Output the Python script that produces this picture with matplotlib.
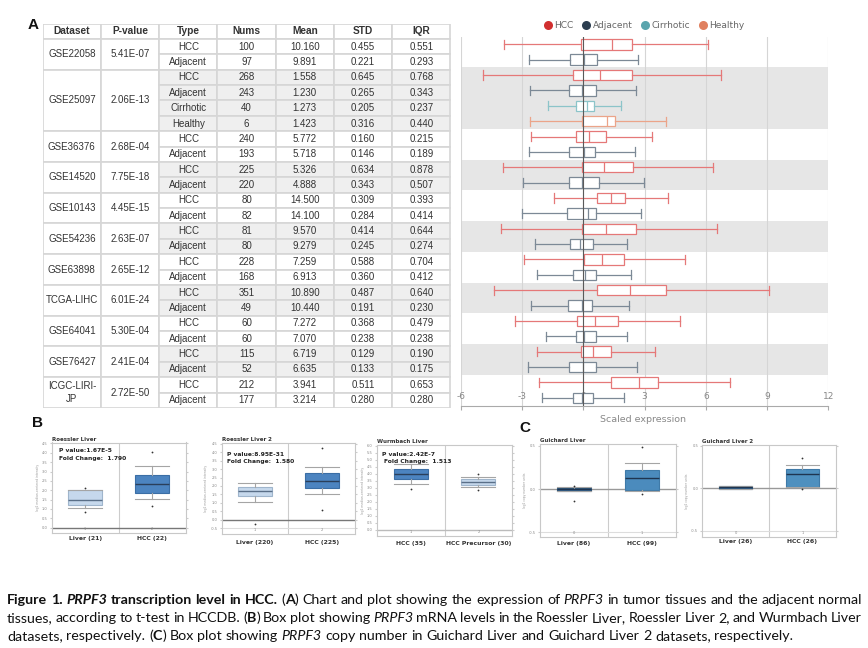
import numpy as np
import matplotlib
matplotlib.use("Agg")
import matplotlib.pyplot as plt
from matplotlib.lines import Line2D
from matplotlib.patches import Rectangle
from matplotlib.transforms import blended_transform_factory

# ---------------- panel A: table ----------------
headers = ["Dataset", "P-value", "Type", "Nums", "Mean", "STD", "IQR"]
datasets = ["GSE22058", "GSE25097", "GSE36376", "GSE14520", "GSE10143", "GSE54236",
            "GSE63898", "TCGA-LIHC", "GSE64041", "GSE76427", "ICGC-LIRI-\nJP"]
pvalues = ["5.41E-07", "2.06E-13", "2.68E-04", "7.75E-18", "4.45E-15", "2.63E-07",
           "2.65E-12", "6.01E-24", "5.30E-04", "2.41E-04", "2.72E-50"]
group_sizes = [2, 4, 2, 2, 2, 2, 2, 2, 2, 2, 2]
types = ["HCC", "Adjacent", "HCC", "Adjacent", "Cirrhotic", "Healthy"] + ["HCC", "Adjacent"] * 9
nums = [100, 97, 268, 243, 40, 6, 240, 193, 225, 220, 80, 82, 81, 80, 228, 168, 351, 49, 60, 60, 115, 52, 212, 177]
means = ["10.160", "9.891", "1.558", "1.230", "1.273", "1.423", "5.772", "5.718", "5.326", "4.888",
         "14.500", "14.100", "9.570", "9.279", "7.259", "6.913", "10.890", "10.440", "7.272", "7.070",
         "6.719", "6.635", "3.941", "3.214"]
stds = ["0.455", "0.221", "0.645", "0.265", "0.205", "0.316", "0.160", "0.146", "0.634", "0.343",
        "0.309", "0.284", "0.414", "0.245", "0.588", "0.360", "0.487", "0.191", "0.368", "0.238",
        "0.129", "0.133", "0.511", "0.280"]
iqrs = ["0.551", "0.293", "0.768", "0.343", "0.237", "0.440", "0.215", "0.189", "0.878", "0.507",
        "0.393", "0.414", "0.644", "0.274", "0.704", "0.412", "0.640", "0.230", "0.479", "0.238",
        "0.190", "0.175", "0.653", "0.280"]

# ---------------- panel A: scaled expression boxes ----------------
box_lo = [-3.88, -2.65, -4.89, -2.62, -1.71, -2.59, -2.57, -2.65, -3.94, -2.95, -1.41, -3.01,
          -4.02, -2.34, -2.91, -2.25, -4.35, -2.56, -3.36, -1.84, -2.25, -2.69, -2.18, -2.01]
box_q1 = [-0.13, -0.66, -0.52, -0.68, -0.37, -0.08, -0.37, -0.71, -0.08, -0.71, 0.66, -0.81,
          -0.04, -0.66, 0.04, -0.52, 0.69, -0.75, -0.30, -0.35, -0.09, -0.68, 1.34, -0.52]
box_med = [1.41, 0.04, 0.80, -0.04, 0.18, 1.17, 0.30, 0.05, 1.00, -0.08, 1.34, 0.22,
           1.12, -0.17, 0.94, 0.07, 2.29, -0.08, 0.56, 0.04, 0.46, 0.00, 2.73, -0.08]
box_q3 = [2.37, 0.67, 2.39, 0.62, 0.53, 1.56, 1.13, 0.59, 2.45, 0.76, 2.04, 0.62,
          2.58, 0.46, 2.00, 0.62, 4.05, 0.45, 1.70, 0.64, 1.35, 0.62, 3.66, 0.49]
box_hi = [6.12, 2.66, 6.74, 2.57, 1.87, 4.07, 3.35, 2.54, 6.34, 2.97, 4.13, 2.85,
          6.53, 2.13, 4.97, 2.34, 9.10, 2.26, 4.72, 2.14, 3.50, 2.65, 7.17, 1.99]
type_line = {"HCC": "#e57878", "Adjacent": "#7c8996", "Cirrhotic": "#8cc4c9", "Healthy": "#eba489"}
type_dot = {"HCC": "#d12f2f", "Adjacent": "#2c3e50", "Cirrhotic": "#5aa5ad", "Healthy": "#e0805f"}
x_ticks = [-6, -3, 0, 3, 6, 9, 12]

# ---------------- panels B and C ----------------
roessler_labels = ["Liver (21)", "HCC (22)"]
roessler = [dict(whislo=1.05, q1=1.19, med=1.46, q3=2.02, whishi=2.02, fliers=[2.14, 0.86]),
            dict(whislo=1.51, q1=1.84, med=2.32, q3=2.83, whishi=3.28, fliers=[4.05, 1.18])]
roessler2_labels = ["Liver (220)", "HCC (225)"]
roessler2 = [dict(whislo=1.05, q1=1.39, med=1.71, q3=1.95, whishi=2.19, fliers=[-0.28]),
             dict(whislo=1.55, q1=1.85, med=2.32, q3=2.76, whishi=3.12, fliers=[4.24, 0.55])]
wurmbach_labels = ["HCC (35)", "HCC Precursor (30)"]
wurmbach = [dict(whislo=3.27, q1=3.63, med=4.01, q3=4.34, whishi=4.72, fliers=[2.90]),
            dict(whislo=3.08, q1=3.18, med=3.39, q3=3.61, whishi=3.80, fliers=[3.96, 2.85])]
guichard_labels = ["Liver (86)", "HCC (99)"]
guichard = [dict(whislo=-0.02, q1=-0.02, med=0.0, q3=0.015, whishi=0.02, fliers=[0.04, -0.14]),
            dict(whislo=-0.02, q1=-0.008, med=0.123, q3=0.215, whishi=0.30, fliers=[0.49, -0.062])]
guichard2_labels = ["Liver (26)", "HCC (26)"]
guichard2 = [dict(whislo=-0.01, q1=-0.005, med=0.012, q3=0.027, whishi=0.03, fliers=[]),
             dict(whislo=0.019, q1=0.019, med=0.173, q3=0.226, whishi=0.277, fliers=[0.358, -0.005])]

W, H = 868, 648
fig = plt.figure(figsize=(W / 100, H / 100), dpi=100)


def px_axes(x0, y0, x1, y1):
    return fig.add_axes([x0 / W, 1 - y1 / H, (x1 - x0) / W, (y1 - y0) / H])


# ---- table ----
tab = px_axes(42.7, 23.6, 450.5, 407.9)
tab.set_xlim(0, 7)
tab.set_ylim(23.5, -1.5)
tab.axis("off")
edge = "#d6d6d6"
tfont = dict(family="Liberation Sans", color="#333333", ha="center", va="center")
for c, name in enumerate(headers):
    tab.add_patch(Rectangle((c, -1.5), 1, 1, fc="white", ec=edge, lw=1.2))
    tab.text(c + 0.5, -1, name, fontsize=7.3, fontweight="bold", **tfont)
start = 0
for g, n in enumerate(group_sizes):
    shade = "#efefef" if g % 2 else "white"
    for c, txt in ((0, datasets[g]), (1, pvalues[g])):
        tab.add_patch(Rectangle((c, start - 0.5), 1, n, fc="white", ec=edge, lw=1.2))
        tab.text(c + 0.5, start + (n - 1) / 2, txt, fontsize=7, linespacing=1.45, **tfont)
    for r in range(start, start + n):
        for c, col in enumerate((types, nums, means, stds, iqrs), start=2):
            tab.add_patch(Rectangle((c, r - 0.5), 1, 1, fc=shade, ec=edge, lw=1.2))
            tab.text(c + 0.5, r, str(col[r]), fontsize=7, **tfont)
    start += n

# ---- box plot A ----
ax = px_axes(460.7, 36.6, 828.3, 405.5)
rows = np.arange(len(types))
start = 0
for g, n in enumerate(group_sizes):
    if g % 2:
        ax.axhspan(start - 0.5, start + n - 0.5, color="#e6e6e6", lw=0, zorder=0)
    start += n
stats = [dict(whislo=a, q1=b, med=m, q3=d, whishi=e, fliers=[])
         for a, b, m, d, e in zip(box_lo, box_q1, box_med, box_q3, box_hi)]
bp = ax.bxp(stats, positions=rows, widths=0.68, capwidths=0.6, orientation="horizontal",
            patch_artist=True, showfliers=False, manage_ticks=False, zorder=2)
for i, t in enumerate(types):
    col = type_line[t]
    bp["boxes"][i].set_facecolor("white")
    bp["boxes"][i].set_edgecolor(col)
    bp["boxes"][i].set_linewidth(0.9)
    for art in (bp["whiskers"][2 * i], bp["whiskers"][2 * i + 1], bp["caps"][2 * i],
                bp["caps"][2 * i + 1], bp["medians"][i]):
        art.set_color(col)
        art.set_linewidth(0.9)
ax.axvline(0, color="#5a5a5a", lw=0.8, zorder=3)
ax.set_xlim(-6, 12)
ax.set_ylim(23.5, -0.5)
ax.set_yticks([])
ax.set_xticks(x_ticks)
ax.set_xticklabels([str(v) for v in x_ticks])
ax.grid(axis="x", color="#d5d5d5", lw=0.8)
ax.set_axisbelow(True)
for s in ("top", "left", "right"):
    ax.spines[s].set_visible(False)
ax.spines["bottom"].set_color("#aaaaaa")
ax.tick_params(axis="x", length=3, color="#aaaaaa", labelcolor="#888888", labelsize=6.5, pad=-12.5)
ax.set_xlabel("Scaled expression", fontsize=6.8, color="#888888")
ax.xaxis.set_label_coords(0.496, -0.025)

handles = [Line2D([], [], ls="none", marker="o", ms=6.5, mfc=type_dot[k], mec="none")
           for k in type_dot]
fig.legend(handles, list(type_dot), loc="center", bbox_to_anchor=(644 / W, 1 - 25.7 / H),
           ncol=4, frameon=False, fontsize=6.5, labelcolor="#666666", handletextpad=0.2,
           columnspacing=0.9, handlelength=1.0)


# ---- small box plots B / C ----
def small_box(rect, title, stats, faces, edges, meds, xlabels, xtl, label_y, ylim, yticks,
              hlines, ylab, ptext=None):
    ax = px_axes(*rect)
    bp = ax.bxp(stats, positions=[1, 2], widths=0.5, capwidths=0.5, patch_artist=True,
                manage_ticks=False, whiskerprops=dict(color="#a5a5a5", lw=0.8),
                capprops=dict(color="#a5a5a5", lw=0.8),
                flierprops=dict(marker="o", ms=1.3, mfc="#333333", mec="none"))
    for b, fc, ec in zip(bp["boxes"], faces, edges):
        b.set_facecolor(fc)
        b.set_edgecolor(ec)
        b.set_linewidth(0.8)
    for m, mc in zip(bp["medians"], meds):
        m.set_color(mc)
        m.set_linewidth(1.0)
    ax.set_xlim(0.5, 2.5)
    ax.set_ylim(*ylim)
    ax.axvline(1.5, color="#cccccc", lw=0.8, zorder=0)
    for y, c, lw in hlines:
        ax.axhline(y, color=c, lw=lw, zorder=0.5)
    ax.set_yticks(yticks)
    ax.set_yticklabels([f"{v:.1f}" for v in yticks])
    ax.set_xticks([1, 2])
    ax.set_xticklabels(xtl)
    ax.tick_params(axis="y", labelsize=2.6, labelcolor="#888888", right=True, length=1.5,
                   color="#cccccc", pad=1.5)
    # the tiny group indices sit just inside the bottom of the frame
    ax.tick_params(axis="x", labelsize=2.6, labelcolor="#888888", length=0, pad=-4.2)
    for s in ax.spines.values():
        s.set_color("#c8c8c8")
        s.set_linewidth(0.8)
    ax.set_ylabel(ylab, fontsize=2.2, color="#999999", labelpad=1.5)
    ax.text(0, 1.01, title, transform=ax.transAxes, fontsize=4.0, fontweight="bold",
            color="#333333", family="DejaVu Sans", va="bottom", ha="left")
    tr = blended_transform_factory(ax.transData, fig.transFigure)
    for x, lab in zip([1, 2], xlabels):
        ax.text(x, 1 - label_y / H, lab, transform=tr, ha="center", va="center", fontsize=4.4,
                fontweight="bold", color="#333333", family="DejaVu Sans")
    if ptext:
        for (tx, ty), s in ptext:
            ax.text(tx, ty, s, transform=ax.transAxes, fontsize=4.3, fontweight="bold",
                    color="#222222", family="DejaVu Sans", va="center", ha="left")
    return ax


light, light_e = "#c6d8ec", "#9fb5cc"
dark, dark_e = "#4c84c0", "#3b6ea5"
b_ylab = "log2 median-centered intensity"
c_ylab = "log2 copy number units"

small_box((51.7, 442.5, 185.5, 533.3), "Roessler Liver", roessler, [light, dark], [light_e, dark_e],
          ["#5a6f88", "#2a3f5a"], roessler_labels, ["1", "2"], 538.3, (-0.3, 4.55),
          np.arange(0, 4.51, 0.5), [(0, "#777777", 1.0)], b_ylab,
          [((0.057, 0.914), "P value:1.67E-5"), ((0.057, 0.826), "Fold Change:  1.790")])
small_box((221.7, 443, 355.3, 534), "Roessler Liver 2", roessler2, [light, dark], [light_e, dark_e],
          ["#5a6f88", "#2a3f5a"], roessler2_labels, ["1", "2"], 542.3, (-0.85, 4.55),
          np.arange(-0.5, 4.51, 0.5), [(0, "#777777", 1.0), (-0.5, "#dddddd", 0.8)], b_ylab,
          [((0.037, 0.878), "P value:8.95E-31"), ((0.037, 0.792), "Fold Change:  1.580")])
small_box((376.7, 445, 512.3, 536), "Wurmbach Liver", wurmbach, [dark, light], [dark_e, light_e],
          ["#2a3f5a", "#5a6f88"], wurmbach_labels, ["1", "2"], 543.3, (-0.43, 6.05),
          np.arange(0, 6.01, 0.5), [(0, "#bbbbbb", 1.0)], b_ylab,
          [((0.037, 0.90), "P value:2.42E-7"), ((0.054, 0.824), "Fold Change:  1.513")])
small_box((540, 444, 675.7, 536.7), "Guichard Liver", guichard, ["#2f5d8a", "#4b8bbd"],
          ["#2a5378", "#3f7aa8"], ["#1f3550", "#1f3550"], guichard_labels, ["0", "1"], 543.3,
          (-0.55, 0.52), [-0.5, 0.0, 0.5], [(0, "#999999", 1.0), (-0.5, "#dddddd", 0.8)], c_ylab)
small_box((702.3, 445, 835.7, 536.7), "Guichard Liver 2", guichard2, ["#2f5d8a", "#4e90bf"],
          ["#2a5378", "#3f7aa8"], ["#1f3550", "#1f3550"], guichard2_labels, ["0", "1"], 541.5,
          (-0.57, 0.51), [-0.5, 0.0, 0.5], [(0, "#999999", 1.0), (-0.5, "#dddddd", 0.8)], c_ylab)

# ---- panel letters ----
for (x, y), s in (((33.5, 25), "A"), ((37.5, 423), "B"), ((524.5, 428), "C")):
    fig.text(x / W, 1 - y / H, s, fontsize=11, fontweight="bold", family="Liberation Sans",
             ha="center", va="center", color="#111111")

# ---- caption ----
caption = [
    [("Figure 1. ", "b"), ("PRPF3", "bi"), (" transcription level in HCC. ", "b"), ("(", "n"), ("A", "b"),
     (") Chart and plot showing the expression of ", "n"), ("PRPF3", "i"),
     (" in tumor tissues and the adjacent normal", "n")],
    [("tissues, according to t-test in HCCDB. (", "n"), ("B", "b"), (") Box plot showing ", "n"),
     ("PRPF3", "i"), (" mRNA levels in the Roessler Liver, Roessler Liver 2, and Wurmbach Liver", "n")],
    [("datasets, respectively. (", "n"), ("C", "b"), (") Box plot showing ", "n"), ("PRPF3", "i"),
     (" copy number in Guichard Liver and Guichard Liver 2 datasets, respectively.", "n")],
]
styles = {"n": ("normal", "normal"), "b": ("bold", "normal"), "i": ("normal", "italic"),
          "bi": ("bold", "italic")}
rend = fig.canvas.get_renderer()


def cap_kw(sty, size):
    w, st = styles[sty]
    return dict(fontsize=size, fontweight=w, fontstyle=st, family="Lato", color="#111111")


def text_w(s, kw):
    t = fig.text(0, 0, s, **kw)
    w = t.get_window_extent(renderer=rend).width
    t.remove()
    return w


def adv(s, kw):
    return text_w("|" + s + "|", kw) - text_w("||", kw)


def words_of(runs):
    words = [[]]
    for txt, sty in runs:
        for k, p in enumerate(txt.split(" ")):
            if k > 0:
                words.append([])
            if p:
                words[-1].append((p, sty))
    return [w for w in words if w]


cap_words = [words_of(line) for line in caption]


def line_width(words, size):
    ww = [sum(adv(f, cap_kw(s, size)) for f, s in w) for w in words]
    return ww, adv(" ", cap_kw("n", size))


x_left, x_right = 7, 862
ww1, sp = line_width(cap_words[0], 10)
size = 10 * (x_right - x_left - 4) / (sum(ww1) + sp * (len(ww1) - 1))
for li, (words, base) in enumerate(zip(cap_words, [604, 622, 640])):
    ww, sp = line_width(words, size)
    gap = (x_right - x_left - sum(ww)) / (len(ww) - 1) if li < 2 else sp
    x = x_left
    for w, wwid in zip(words, ww):
        xx = x
        for f, s in w:
            fig.text(xx / W, 1 - base / H, f, va="baseline", ha="left", **cap_kw(s, size))
            xx += adv(f, cap_kw(s, size))
        x += wwid + gap

fig.savefig("out.png", dpi=100)
